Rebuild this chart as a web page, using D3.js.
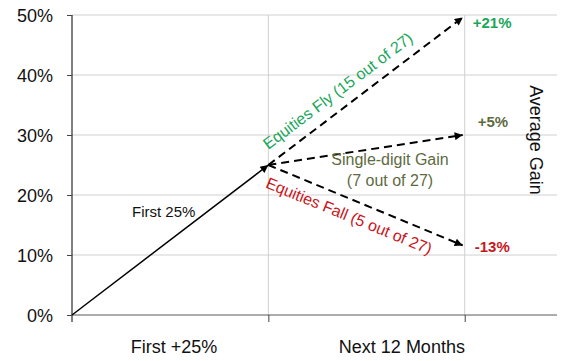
<!DOCTYPE html>
<html>
<head>
<meta charset="utf-8">
<script src="https://cdn.jsdelivr.net/npm/d3@7"></script>
<style>
  body { margin: 0; background: #fff; }
  svg { font-family: "Liberation Sans", Arial, sans-serif; }
</style>
</head>
<body>
<svg width="573" height="361"></svg>
<script>
// data
var yTicks = [0, 10, 20, 30, 40, 50];
var categories = ['First +25%', 'Next 12 Months'];
var categoryAt = [0.52, 1.68];   // x value where each category label sits
var stages = [0, 1, 2];          // x values of the start, the 25% point and 12 months later
var firstLeg = [0, 25];          // % at stage 0 and stage 1
var outcomes = [
  { name: 'Equities Fly (15 out of 27)', end: 49.6, gain: '+21%', color: '#1ba65a' },
  { name: 'Single-digit Gain|(7 out of 27)', end: 30, gain: '+5%', color: '#5e6b3f' },
  { name: 'Equities Fall (5 out of 27)', end: 11.6, gain: '-13%', color: '#c8161d' }
];

var svg = d3.select('svg');
var x = d3.scaleLinear().domain([0, 2.47]).range([72, 557]);
var y = d3.scaleLinear().domain([0, 50]).range([315, 15]);

// arrow head
svg.append('defs').append('marker')
  .attr('id', 'arrow')
  .attr('viewBox', '0 0 10 10')
  .attr('refX', 10).attr('refY', 5)
  .attr('markerWidth', 10).attr('markerHeight', 8)
  .attr('markerUnits', 'userSpaceOnUse')
  .attr('orient', 'auto')
  .append('path').attr('d', 'M0,0L10,5L0,10Z').attr('fill', '#000');

// horizontal grid
svg.append('g').selectAll('line')
  .data(yTicks.filter(d => d > 0))
  .enter().append('line')
  .attr('x1', x(0)).attr('x2', x(2.47))
  .attr('y1', d => y(d)).attr('y2', d => y(d))
  .attr('stroke', '#d0d0d0').attr('stroke-width', 1);

// vertical grid
svg.append('g').selectAll('line')
  .data(stages.slice(1))
  .enter().append('line')
  .attr('x1', d => x(d)).attr('x2', d => x(d))
  .attr('y1', y(50)).attr('y2', y(0))
  .attr('stroke', '#d0d0d0').attr('stroke-width', 1);

// y axis
var yAxis = svg.append('g')
  .attr('transform', 'translate(' + x(0) + ',0)')
  .call(d3.axisLeft(y).tickValues(yTicks).tickFormat(d => d + '%').tickSize(5).tickPadding(14));
yAxis.select('.domain').attr('d', 'M0,' + y(50) + 'V' + (y(0) + 7)).attr('stroke', '#000');
yAxis.selectAll('.tick line').attr('stroke', '#444');
yAxis.selectAll('text')
  .attr('font-size', 18).attr('fill', '#111').attr('font-family', null).attr('dy', '0.36em');

// x axis
var xAxis = svg.append('g')
  .attr('transform', 'translate(0,' + y(0) + ')')
  .call(d3.axisBottom(x).tickValues(stages.slice(1)).tickFormat('').tickSize(7));
xAxis.select('.domain').attr('d', 'M' + x(0) + ',0H' + x(2.47)).attr('stroke', '#595959');
xAxis.selectAll('.tick line').attr('stroke', '#444');

svg.append('g').selectAll('text')
  .data(categories)
  .enter().append('text')
  .attr('x', (d, i) => x(categoryAt[i]))
  .attr('y', 353)
  .attr('text-anchor', 'middle')
  .attr('font-size', 18).attr('fill', '#111')
  .text(d => d);

// right axis title
svg.append('text')
  .attr('transform', 'translate(530,140) rotate(90)')
  .attr('text-anchor', 'middle')
  .attr('font-size', 18).attr('fill', '#111')
  .text('Average Gain');

// first leg
svg.append('line')
  .attr('x1', x(stages[0])).attr('y1', y(firstLeg[0]))
  .attr('x2', x(stages[1])).attr('y2', y(firstLeg[1]))
  .attr('stroke', '#000').attr('stroke-width', 1.5)
  .attr('marker-end', 'url(#arrow)');

svg.append('text')
  .attr('x', x(stages[0]) + 60).attr('y', 217)
  .attr('font-size', 15).attr('fill', '#111')
  .text('First 25%');

// outcome legs
var legs = svg.append('g');
legs.selectAll('line')
  .data(outcomes)
  .enter().append('line')
  .attr('x1', x(stages[1])).attr('y1', y(firstLeg[1]))
  .attr('x2', x(stages[2]) - 2).attr('y2', d => y(d.end))
  .attr('stroke', '#000').attr('stroke-width', 2)
  .attr('stroke-dasharray', '8,5')
  .attr('marker-end', 'url(#arrow)');

// gain labels
legs.selectAll('text.gain')
  .data(outcomes)
  .enter().append('text')
  .attr('class', 'gain')
  .attr('x', (d, i) => x(stages[2]) + [8, 13, 10][i])
  .attr('y', (d, i) => y(d.end) + [11, -8, 7][i])
  .attr('font-size', 15).attr('font-weight', 'bold')
  .attr('fill', d => d.color)
  .text(d => d.gain);

// rotated labels along the fly / fall lines
[0, 2].forEach(function (i) {
  var d = outcomes[i];
  var x0 = x(stages[1]), y0 = y(firstLeg[1]);
  var x1 = x(stages[2]), y1 = y(d.end);
  var ang = Math.atan2(y1 - y0, x1 - x0);
  var deg = ang * 180 / Math.PI;
  var along = i === 0 ? 9 : 5;
  var off = i === 0 ? -12 : 22;
  var px = x0 + along * Math.cos(ang) - off * Math.sin(ang);
  var py = y0 + along * Math.sin(ang) + off * Math.cos(ang);
  legs.append('text')
    .attr('transform', 'translate(' + px + ',' + py + ') rotate(' + deg + ')')
    .attr('font-size', 16).attr('fill', d.color)
    .text(d.name);
});

// single-digit label, two lines
var mid = outcomes[1];
legs.append('text')
  .attr('text-anchor', 'middle')
  .attr('font-size', 16).attr('fill', mid.color)
  .selectAll('tspan')
  .data(mid.name.split('|'))
  .enter().append('tspan')
  .attr('x', 390)
  .attr('y', (d, i) => 165 + i * 21)
  .text(d => d);
</script>
</body>
</html>
